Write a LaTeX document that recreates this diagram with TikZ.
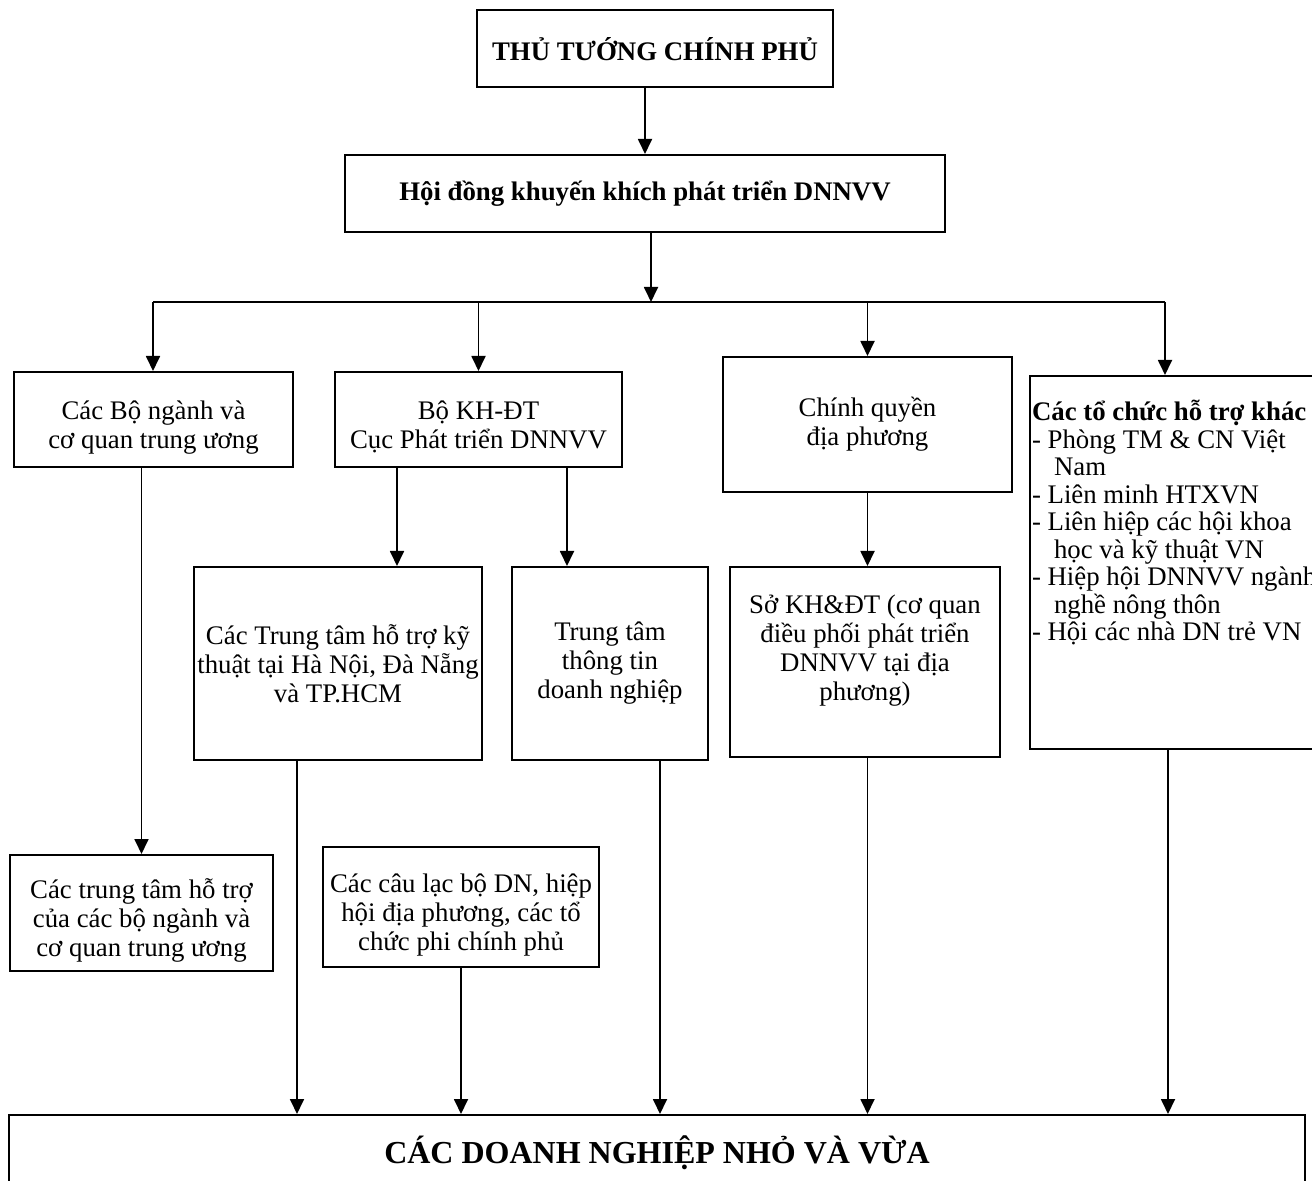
\documentclass[tikz,border=0pt]{standalone}
\usepackage{fontspec}
\setmainfont{Liberation Serif}
\usetikzlibrary{arrows.meta}
\newcommand{\lowr}{\rule{0pt}{17pt}}
\begin{document}
\begin{tikzpicture}[x=0.5pt,y=-0.5pt,
  box/.style={draw, line width=1pt, inner sep=0pt, align=center,
    font=\fontsize{13.4pt}{14.5pt}\selectfont},
  boldbox/.style={box, font=\fontsize{13.4pt}{14.5pt}\selectfont\bfseries},
  arr/.style={line width=0.9pt, -{Triangle[length=7.5pt,width=7pt]}},
  ln/.style={line width=0.9pt}]
\clip (0,0) rectangle (1312,1181);
\fill[white] (0,0) rectangle (1312,1181);

% boxes
\node[boldbox, minimum width=178pt, minimum height=38.5pt] (T) at (655,48.5) {\rule{0pt}{12pt}THỦ TƯỚNG CHÍNH PHỦ};
\node[boldbox, minimum width=300pt, minimum height=38.5pt] (H2) at (645,193.5) {Hội đồng khuyến khích phát triển DNNVV};

\node[box, minimum width=139.5pt, minimum height=47.5pt] (A) at (153.5,419.5) {\lowr Các Bộ ngành và\\cơ quan trung ương};
\node[box, minimum width=143.5pt, minimum height=47.5pt] (B) at (478.5,419.5) {\lowr Bộ KH-ĐT\\Cục Phát triển DNNVV};
\node[box, minimum width=144.5pt, minimum height=67.5pt] (C) at (867.5,424.5) {Chính quyền\\địa phương};
\node[draw, line width=1pt, inner sep=0pt, anchor=north west] (D) at (1029,375)
  {\begin{minipage}[t][186.5pt][t]{170pt}%
   \fontsize{13.4pt}{13.75pt}\selectfont\raggedright\leftskip=1pt
   \noindent\rule{0pt}{22.5pt}\textbf{Các tổ chức hỗ trợ khác}\\
   - Phòng TM \& CN Việt\\
   \hspace*{11pt}Nam\\
   - Liên minh HTXVN\\
   - Liên hiệp các hội khoa\\
   \hspace*{11pt}học và kỹ thuật VN\\
   - Hiệp hội DNNVV ngành\\
   \hspace*{11pt}nghề nông thôn\\
   - Hội các nhà DN trẻ VN
   \end{minipage}};

\node[box, minimum width=131.5pt, minimum height=58pt] (E) at (141.5,913) {\lowr Các trung tâm hỗ trợ\\của các bộ ngành và\\cơ quan trung ương};
\node[box, minimum width=144pt, minimum height=96.5pt] (F) at (338,663.5) {Các Trung tâm hỗ trợ kỹ\\thuật tại Hà Nội, Đà Nẵng\\và TP.HCM};
\node[box, minimum width=98pt, minimum height=96.5pt] (G) at (610,663.5) {Trung tâm\\thông tin\\doanh nghiệp};
\node[box, minimum width=135pt, minimum height=95pt] (H) at (865,662) {Sở KH\&ĐT (cơ quan\\điều phối phát triển\\DNNVV tại địa\\phương)\\\mbox{}};
\node[box, minimum width=138pt, minimum height=60pt] (I) at (461,907) {\lowr Các câu lạc bộ DN, hiệp\\hội địa phương, các tổ\\chức phi chính phủ};
\node[box, minimum width=648pt, minimum height=37.5pt, font=\fontsize{16pt}{18pt}\selectfont\bfseries] (J) at (657,1152.5) {CÁC DOANH NGHIỆP NHỎ VÀ VỪA};

% coordinates
\coordinate (busL) at (153,302);
\coordinate (busR) at (1165,302);
\coordinate (busM) at (651,302);
\coordinate (xF) at (397,0);
\coordinate (xG) at (567,0);
\coordinate (xFo) at (297,0);
\coordinate (xGo) at (660,0);
\coordinate (xDo) at (1168,0);

% connectors
\draw[arr] (H2.north |- T.south) -- (H2.north);
\draw[arr] (busM |- H2.south) -- (busM);
\draw[ln] (busL) -- (busR);
\draw[arr] (busL) -- (busL |- A.north);
\draw[arr] (B.north |- busL) -- (B.north);
\draw[arr] (C.north |- busL) -- (C.north);
\draw[arr] (busR) -- (busR |- D.north);
\draw[arr] (E.north |- A.south) -- (E.north);
\draw[arr] (xF |- B.south) -- (xF |- F.north);
\draw[arr] (xG |- B.south) -- (xG |- G.north);
\draw[arr] (C.south) -- (C.south |- H.north);
\draw[arr] (xFo |- F.south) -- (xFo |- J.north);
\draw[arr] (I.south) -- (I.south |- J.north);
\draw[arr] (xGo |- G.south) -- (xGo |- J.north);
\draw[arr] (C.south |- H.south) -- (C.south |- J.north);
\draw[arr] (xDo |- D.south) -- (xDo |- J.north);
\end{tikzpicture}
\end{document}
